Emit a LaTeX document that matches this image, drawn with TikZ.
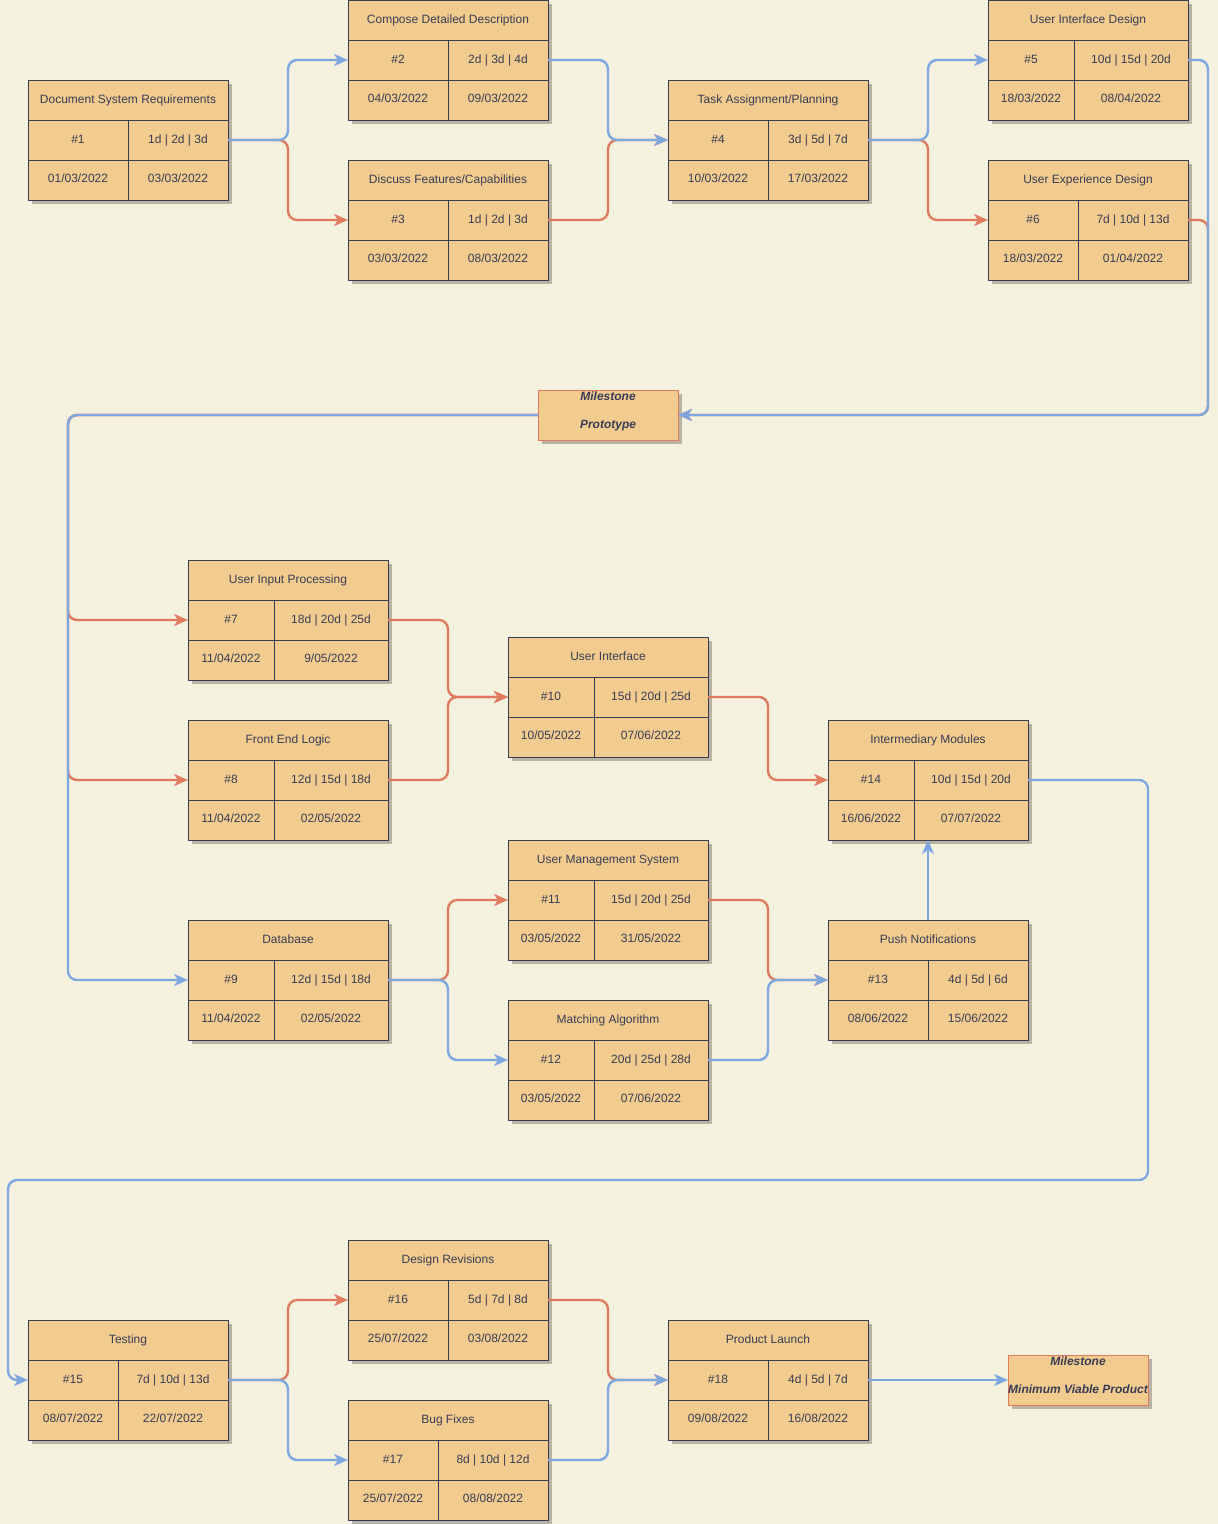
\documentclass[tikz,border=0pt]{standalone}
\usepackage{fontspec}
\setmainfont{Liberation Sans}
\usetikzlibrary{arrows.meta,calc}
\definecolor{bgc}{HTML}{F4F1DE}
\definecolor{fillc}{HTML}{F2CC8F}
\definecolor{navyc}{HTML}{393C56}
\definecolor{redc}{HTML}{E07A5F}
\definecolor{bluec}{HTML}{7EA6E0}
\definecolor{shadc}{HTML}{B8B3A2}
\tikzset{
  tabbox/.style={fill=fillc, minimum width=200pt, minimum height=120pt, inner sep=0pt, outer sep=0pt},
  msbox/.style={fill=fillc, draw=redc, line width=1pt, minimum width=140pt, minimum height=50pt, inner sep=0pt, outer sep=0pt},
  txt/.style={text=navyc, font=\fontsize{12}{14}\selectfont, inner sep=0pt, anchor=base},
  mtxt/.style={txt, font=\fontsize{12}{14}\selectfont\bfseries\itshape},
  gridl/.style={draw=navyc, line width=0.9pt},
  bedge/.style={draw=bluec, line width=2.4pt, rounded corners=9pt, -{Stealth[length=14pt,width=12pt,inset=4pt]}},
  redge/.style={bedge, draw=redc}
}
\newcommand\ptable[9]{%
  \fill[shadc] ({#2+3.5},{#3+4}) rectangle ({#2+203.5},{#3+124});
  \node[tabbox, anchor=north west] (#1) at (#2,#3) {};
  \draw[redc, line width=1.1pt] ({#2+200.8},#3) -- ({#2+200.8},{#3+120.8}) -- (#2,{#3+120.8});
  \draw[gridl] (#2,#3) rectangle ({#2+200},{#3+120})
    (#2,{#3+40}) -- ({#2+200},{#3+40})
    (#2,{#3+80}) -- ({#2+200},{#3+80})
    ({#2+#4},{#3+40}) -- ({#2+#4},{#3+120});
  \node[txt] (#1h) at ({#2+100},{#3+23}) {#5};
  \node[txt] (#1n) at ({#2+#4/2},{#3+63}) {#6};
  \node[txt] (#1d) at ({#2+100+#4/2},{#3+63}) {#7};
  \node[txt] (#1s) at ({#2+#4/2},{#3+102.5}) {#8};
  \node[txt] (#1e) at ({#2+100+#4/2},{#3+102.5}) {#9};
}
\begin{document}
\begin{tikzpicture}[x=1pt,y=-1pt]
\fill[bgc] (0,0) rectangle (1218,1524);
\useasboundingbox (0,0) rectangle (1218,1524);

\ptable{t1}{28}{80}{100}{Document System Requirements}{\#1}{1d | 2d | 3d}{01/03/2022}{03/03/2022}
\ptable{t2}{348}{0}{100}{Compose Detailed Description}{\#2}{2d | 3d | 4d}{04/03/2022}{09/03/2022}
\ptable{t3}{348}{160}{100}{Discuss Features/Capabilities}{\#3}{1d | 2d | 3d}{03/03/2022}{08/03/2022}
\ptable{t4}{668}{80}{100}{Task Assignment/Planning}{\#4}{3d | 5d | 7d}{10/03/2022}{17/03/2022}
\ptable{t5}{988}{0}{86}{User Interface Design}{\#5}{10d | 15d | 20d}{18/03/2022}{08/04/2022}
\ptable{t6}{988}{160}{90}{User Experience Design}{\#6}{7d | 10d | 13d}{18/03/2022}{01/04/2022}
\ptable{t7}{188}{560}{86}{User Input Processing}{\#7}{18d | 20d | 25d}{11/04/2022}{9/05/2022}
\ptable{t8}{188}{720}{86}{Front End Logic}{\#8}{12d | 15d | 18d}{11/04/2022}{02/05/2022}
\ptable{t9}{188}{920}{86}{Database}{\#9}{12d | 15d | 18d}{11/04/2022}{02/05/2022}
\ptable{t10}{508}{637}{86}{User Interface}{\#10}{15d | 20d | 25d}{10/05/2022}{07/06/2022}
\ptable{t11}{508}{840}{86}{User Management System}{\#11}{15d | 20d | 25d}{03/05/2022}{31/05/2022}
\ptable{t12}{508}{1000}{86}{Matching Algorithm}{\#12}{20d | 25d | 28d}{03/05/2022}{07/06/2022}
\ptable{t13}{828}{920}{100}{Push Notifications}{\#13}{4d | 5d | 6d}{08/06/2022}{15/06/2022}
\ptable{t14}{828}{720}{86}{Intermediary Modules}{\#14}{10d | 15d | 20d}{16/06/2022}{07/07/2022}
\ptable{t15}{28}{1320}{90}{Testing}{\#15}{7d | 10d | 13d}{08/07/2022}{22/07/2022}
\ptable{t16}{348}{1240}{100}{Design Revisions}{\#16}{5d | 7d | 8d}{25/07/2022}{03/08/2022}
\ptable{t17}{348}{1400}{90}{Bug Fixes}{\#17}{8d | 10d | 12d}{25/07/2022}{08/08/2022}
\ptable{t18}{668}{1320}{100}{Product Launch}{\#18}{4d | 5d | 7d}{09/08/2022}{16/08/2022}

% milestones
\fill[shadc] (541.5,394) rectangle (681.5,444);
\node[msbox] (m1) at (608,415) {};
\node[mtxt] (m1a) at (608,400) {Milestone};
\node[mtxt] (m1b) at (608,428.5) {Prototype};
\fill[shadc] (1011.5,1359) rectangle (1151.5,1409);
\node[msbox] (m2) at (1078,1380) {};
\node[mtxt] (m2a) at (1078,1365) {Milestone};
\node[mtxt] (m2b) at (1078,1393.5) {Minimum Viable Product};

% red connectors
\draw[redge] (t1.east) -- ++(60,0) |- (t3.west);
\draw[redge] (t3.east) -- ++(60,0) |- (t4.west);
\draw[redge] (t4.east) -- ++(60,0) |- (t6.west);
\draw[redge] (t6.east) -- ++(20,0) |- (m1.east);
\draw[redge] (m1.west) -- ++(-470,0) |- (t7.west);
\draw[redge] (m1.west) -- ++(-470,0) |- (t8.west);
\draw[redge] (t7.east) -- ++(60,0) |- (t10.west);
\draw[redge] (t8.east) -- ++(60,0) |- (t10.west);
\draw[redge] (t9.east) -- ++(60,0) |- (t11.west);
\draw[redge] (t10.east) -- ++(60,0) |- (t14.west);
\draw[redge] (t11.east) -- ++(60,0) |- (t13.west);
\draw[redge] (t15.east) -- ++(60,0) |- (t16.west);
\draw[redge] (t16.east) -- ++(60,0) |- (t18.west);

% blue connectors
\draw[bedge] (t1.east) -- ++(60,0) |- (t2.west);
\draw[bedge] (t2.east) -- ++(60,0) |- (t4.west);
\draw[bedge] (t4.east) -- ++(60,0) |- (t5.west);
\draw[bedge] (t5.east) -- ++(20,0) |- (m1.east);
\draw[bedge] (m1.west) -- ++(-470,0) |- (t9.west);
\draw[bedge] (t9.east) -- ++(60,0) |- (t12.west);
\draw[bedge] (t12.east) -- ++(60,0) |- (t13.west);
\draw[bedge] (t13.north) -- (t14.south);
\draw[bedge] (t14.east) -- ++(120,0) -- ++(0,400) -| ([xshift=-20pt]t15.west) -- (t15.west);
\draw[bedge] (t15.east) -- ++(60,0) |- (t17.west);
\draw[bedge] (t17.east) -- ++(60,0) |- (t18.west);
\draw[bedge] (t18.east) -- (m2.west);
\end{tikzpicture}
\end{document}
